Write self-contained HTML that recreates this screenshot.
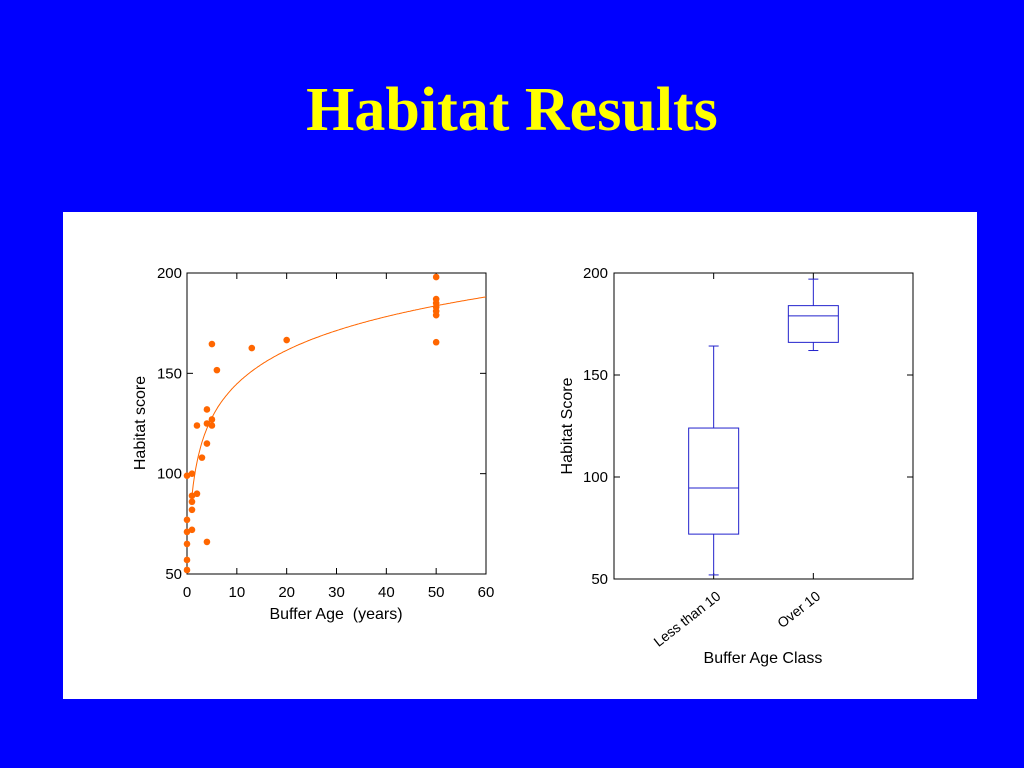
<!DOCTYPE html>
<html><head><meta charset="utf-8"><style>
body{margin:0;width:1024px;height:768px;background:#0000ff;overflow:hidden;font-family:"Liberation Sans",sans-serif}
#title{position:absolute;left:0;width:1024px;top:72px;text-align:center;color:#ffff00;font:bold 62px "Liberation Serif",serif;line-height:76px}
#panel{position:absolute;left:63px;top:212px;width:914px;height:487px;background:#fff}
svg{position:absolute;left:0;top:0}
</style></head><body>
<div id="title">Habitat Results</div>
<div id="panel"></div>
<svg id="svg" width="1024" height="768"></svg>
<script>
const scatterX=[5,13,20,6,4,2,4,5,5,4,3,0,1,1,2,1,1,0,0,1,4,0,0,0,50,50,50,50,50,50,50];
const scatterY=[164.6,162.6,166.6,151.6,132,124,125,127,124,115,108,99,100,89,90,86,82,77,71,72,66,65,57,52,198,187,185,183,181,179,165.5];
const xTicks=[0,10,20,30,40,50,60];
const yTicks=[50,100,150,200];
const fitA=89, fitB=24.2;
const boxCats=["Less than 10","Over 10"];
const boxLow=[52,162];
const boxQ1=[72,166];
const boxMed=[94.6,179];
const boxQ3=[124,184];
const boxHigh=[164.2,197];

const NS="http://www.w3.org/2000/svg";
const svg=document.getElementById('svg');
function mk(t,a,p){const e=document.createElementNS(NS,t);for(const k in a)e.setAttribute(k,a[k]);(p||svg).appendChild(e);return e;}

const L={x0:187,x1:486,y0:574,y1:273};
const lx=v=>L.x0+(v-0)/60*(L.x1-L.x0);
const ly=v=>L.y0-(v-50)/150*(L.y0-L.y1);
const g1=mk('g',{});


const f1=mk('rect',{x:L.x0,y:L.y1,width:L.x1-L.x0,height:L.y0-L.y1,fill:'none',stroke:'#000','stroke-width':1},g1);


xTicks.forEach(t=>{const x=lx(t);
 mk('line',{x1:x,x2:x,y1:L.y0,y2:L.y0-6,stroke:'#000'},g1);mk('line',{x1:x,x2:x,y1:L.y1,y2:L.y1+6,stroke:'#000'},g1);
 const tx=mk('text',{x:x,y:597,'text-anchor':'middle','font-size':15},g1);tx.textContent=t;
 
 });
yTicks.forEach(t=>{const y=ly(t);
 mk('line',{x1:L.x0,x2:L.x0+6,y1:y,y2:y,stroke:'#000'},g1);mk('line',{x1:L.x1,x2:L.x1-6,y1:y,y2:y,stroke:'#000'},g1);
 const tx=mk('text',{x:182,y:y+5,'text-anchor':'end','font-size':15},g1);tx.textContent=t;
 
 });
let d='';for(let x=1;x<=60;x+=0.25){const y=fitA+fitB*Math.log(x);d+=(d?'L':'M')+lx(x).toFixed(1)+','+ly(y).toFixed(1);}
const fl=mk('path',{d:d,fill:'none',stroke:'#ff6600','stroke-width':1},g1);


scatterX.forEach((v,i)=>{const c=mk('circle',{cx:lx(v),cy:ly(scatterY[i]),r:3.3,fill:'#ff6600'},g1);
 
 });
let t=mk('text',{x:336,y:619,'text-anchor':'middle','font-size':16,'xml:space':'preserve'},g1);t.textContent='Buffer Age  (years)';
t.style.whiteSpace='pre';


t=mk('text',{x:0,y:0,'text-anchor':'middle','font-size':16,transform:'translate(145,423) rotate(-90)'},g1);t.textContent='Habitat score';



const R={x0:614,x1:913,y0:579,y1:273};
const rx=i=>R.x0+(i+1)/3*(R.x1-R.x0);
const ry=v=>R.y0-(v-50)/150*(R.y0-R.y1);
const g2=mk('g',{});


const f2=mk('rect',{x:R.x0,y:R.y1,width:R.x1-R.x0,height:R.y0-R.y1,fill:'none',stroke:'#000'},g2);


yTicks.forEach(tv=>{const y=ry(tv);
 mk('line',{x1:R.x0,x2:R.x0+6,y1:y,y2:y,stroke:'#000'},g2);mk('line',{x1:R.x1,x2:R.x1-6,y1:y,y2:y,stroke:'#000'},g2);
 const tx=mk('text',{x:608,y:y+5,'text-anchor':'end','font-size':15},g2);tx.textContent=tv;
 
 });
boxCats.forEach((c,i)=>{const x=rx(i);
 mk('line',{x1:x,x2:x,y1:R.y0,y2:R.y0-6,stroke:'#000'},g2);mk('line',{x1:x,x2:x,y1:R.y1,y2:R.y1+6,stroke:'#000'},g2);
 const b=mk('g',{},g2);
 
 
 const col='#2222cc';
 mk('line',{x1:x,x2:x,y1:ry(boxHigh[i]),y2:ry(boxQ3[i]),stroke:col},b);
 mk('line',{x1:x,x2:x,y1:ry(boxQ1[i]),y2:ry(boxLow[i]),stroke:col},b);
 mk('line',{x1:x-5,x2:x+5,y1:ry(boxHigh[i]),y2:ry(boxHigh[i]),stroke:col},b);
 mk('line',{x1:x-5,x2:x+5,y1:ry(boxLow[i]),y2:ry(boxLow[i]),stroke:col},b);
 mk('rect',{x:x-25,y:ry(boxQ3[i]),width:50,height:ry(boxQ1[i])-ry(boxQ3[i]),fill:'none',stroke:col},b);
 mk('line',{x1:x-25,x2:x+25,y1:ry(boxMed[i]),y2:ry(boxMed[i]),stroke:col},b);
 const tx=mk('text',{x:0,y:0,'text-anchor':'end','font-size':14,transform:`translate(${x+8},${598}) rotate(-38)`},g2);tx.textContent=c;
 
 });
t=mk('text',{x:763,y:663,'text-anchor':'middle','font-size':16},g2);t.textContent='Buffer Age Class';


t=mk('text',{x:0,y:0,'text-anchor':'middle','font-size':16,transform:'translate(572,426) rotate(-90)'},g2);t.textContent='Habitat Score';


</script>
</body></html>
